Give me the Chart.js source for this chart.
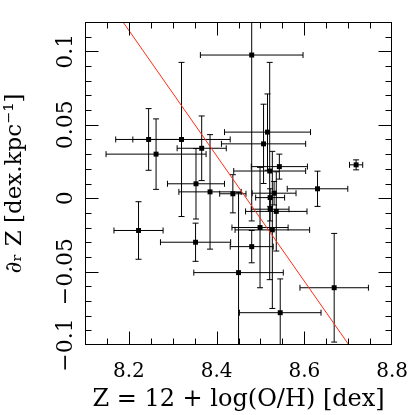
<!DOCTYPE html>
<html>
  <head>
    <title>Metallicity gradient</title>
    <style>
      html, body { margin: 0; padding: 0; background: #fff; }
      #chart { display: block; }
    </style>
  </head>
  <body>
    <canvas id="chart" width="415" height="415"></canvas>

    <script src="https://cdn.jsdelivr.net/npm/chart.js"></script>
    <script>
      // one entry per galaxy: 12 + log(O/H) and the radial gradient, with errors
      const metallicity = [
        8.480, 8.516, 8.507, 8.320, 8.245, 8.366, 8.262, 8.543, 8.521,
        8.718, 8.353, 8.630, 8.385, 8.437, 8.531, 8.522, 8.522, 8.536,
        8.222, 8.499, 8.527, 8.352, 8.480, 8.450, 8.668, 8.545,
      ];
      const metallicityErr = [
        0.117, 0.098, 0.096, 0.111, 0.075, 0.056, 0.114, 0.064, 0.082,
        0.015, 0.065, 0.069, 0.071, 0.030, 0.050, 0.033, 0.043, 0.070,
        0.056, 0.064, 0.085, 0.080, 0.049, 0.102, 0.078, 0.093,
      ];
      const gradient = [
        0.0975, 0.045, 0.037, 0.040, 0.040, 0.034, 0.030, 0.0215, 0.0185,
        0.0227, 0.0098, 0.0064, 0.0043, 0.003, 0.0034, 0.0004, -0.0075, -0.009,
        -0.022, -0.020, -0.0216, -0.030, -0.033, -0.0507, -0.061, -0.078,
      ];
      const gradientErr = [
        0.113, 0.026, 0.027, 0.0525, 0.021, 0.022, 0.024, 0.0085, 0.074,
        0.0034, 0.024, 0.012, 0.039, 0.013, 0.008, 0.006, 0.008, 0.027,
        0.0196, 0.041, 0.0535, 0.013, 0.011, 0.0545, 0.037, 0.023,
      ];

      // red fit line, end points read at the plot edges
      const fitX = [8.1, 8.8];
      const fitY = [0.157, -0.142];

      const xTickValues = [8.2, 8.4, 8.6, 8.8];
      const yTickValues = [-0.1, -0.05, 0, 0.05, 0.1];
      const yTickLabels = ["\u22120.1", "\u22120.05", "0", "0.05", "0.1"];

      const serif = "'DejaVu Serif', serif";

      // error bars under the points, box + inward ticks + rotated y labels on top
      const frame = {
        id: "frame",
        beforeDatasetsDraw(chart) {
          const { ctx, chartArea: a, scales } = chart;
          const x = scales.x, y = scales.y;
          const cap = 3;
          ctx.save();
          ctx.beginPath();
          ctx.rect(a.left, a.top, a.right - a.left, a.bottom - a.top);
          ctx.clip();
          ctx.strokeStyle = "#000";
          ctx.lineWidth = 1;
          metallicity.forEach((m, i) => {
            const px = x.getPixelForValue(m);
            const py = y.getPixelForValue(gradient[i]);
            const x0 = x.getPixelForValue(m - metallicityErr[i]);
            const x1 = x.getPixelForValue(m + metallicityErr[i]);
            const y0 = y.getPixelForValue(gradient[i] - gradientErr[i]);
            const y1 = y.getPixelForValue(gradient[i] + gradientErr[i]);
            ctx.beginPath();
            ctx.moveTo(x0, py); ctx.lineTo(x1, py);
            ctx.moveTo(x0, py - cap); ctx.lineTo(x0, py + cap);
            ctx.moveTo(x1, py - cap); ctx.lineTo(x1, py + cap);
            ctx.moveTo(px, y0); ctx.lineTo(px, y1);
            ctx.moveTo(px - cap, y0); ctx.lineTo(px + cap, y0);
            ctx.moveTo(px - cap, y1); ctx.lineTo(px + cap, y1);
            ctx.stroke();
          });
          ctx.restore();
        },
        afterDraw(chart) {
          const { ctx, chartArea: a, scales } = chart;
          const x = scales.x, y = scales.y;
          const L = Math.round(a.left) + 0.5, R = Math.round(a.right) - 0.5;
          const T = Math.round(a.top) + 0.5, B = Math.round(a.bottom) - 0.5;
          ctx.save();
          ctx.strokeStyle = "#000";
          ctx.lineWidth = 1;
          ctx.strokeRect(L, T, R - L, B - T);

          ctx.beginPath();
          for (let k = 1; k < 14; k++) {
            const v = Math.round((8.1 + k * 0.05) * 100) / 100;
            const len = k % 4 === 2 ? 13 : 6;
            const p = Math.round(x.getPixelForValue(v)) + 0.5;
            ctx.moveTo(p, B); ctx.lineTo(p, B - len);
            ctx.moveTo(p, T); ctx.lineTo(p, T + len);
          }
          for (let k = -9; k < 12; k++) {
            const len = k % 5 === 0 ? 13 : 6;
            const p = Math.round(y.getPixelForValue(k / 100)) + 0.5;
            ctx.moveTo(L, p); ctx.lineTo(L + len, p);
            ctx.moveTo(R, p); ctx.lineTo(R - len, p);
          }
          ctx.stroke();

          ctx.fillStyle = "#000";
          ctx.font = "22px " + serif;
          ctx.textAlign = "center";
          ctx.textBaseline = "middle";
          yTickValues.forEach((v, i) => {
            ctx.save();
            ctx.translate(66, y.getPixelForValue(v));
            ctx.rotate(-Math.PI / 2);
            ctx.fillText(yTickLabels[i], 0, 0);
            ctx.restore();
          });
          ctx.restore();
        },
      };

      const ctx = document.getElementById("chart").getContext("2d");
      new Chart(ctx, {
        type: "scatter",
        data: {
          datasets: [
            {
              type: "line",
              data: fitX.map((v, i) => ({ x: v, y: fitY[i] })),
              borderColor: "rgb(255, 45, 20)",
              borderWidth: 1,
              pointRadius: 0,
              fill: false,
              tension: 0,
            },
            {
              data: metallicity.map((v, i) => ({ x: v, y: gradient[i] })),
              pointStyle: "rect",
              pointRadius: 3.5,
              backgroundColor: "#000",
              borderWidth: 0,
            },
          ],
        },
        options: {
          responsive: false,
          animation: false,
          layout: { padding: { top: 22, right: 22, left: 0, bottom: 0 } },
          plugins: {
            legend: { display: false },
            tooltip: { enabled: false },
          },
          scales: {
            x: {
              type: "linear",
              min: 8.1,
              max: 8.8,
              grid: { display: false },
              border: { display: false },
              afterBuildTicks: (s) => {
                s.ticks = xTickValues.map((v) => ({ value: v }));
              },
              afterFit: (s) => { s.height = 70; },
              ticks: {
                padding: 7,
                color: "#000",
                font: { family: serif, size: 20 },
                callback: (v) => v.toFixed(1),
              },
              title: {
                display: true,
                text: "Z = 12 + log(O/H) [dex]",
                color: "#000",
                font: { family: serif, size: 24 },
                padding: { top: 0, bottom: 1 },
              },
            },
            y: {
              type: "linear",
              min: -0.1,
              max: 0.12,
              grid: { display: false },
              border: { display: false },
              ticks: { display: false },
              afterFit: (s) => { s.width = 85; },
              title: {
                display: true,
                text: "\u2202\u1d63 Z [dex.kpc\u207b\u00b9]",
                color: "#000",
                font: { family: serif, size: 23 },
                padding: { top: 1, bottom: 0 },
              },
            },
          },
        },
        plugins: [frame],
      });
    </script>
  </body>
</html>
